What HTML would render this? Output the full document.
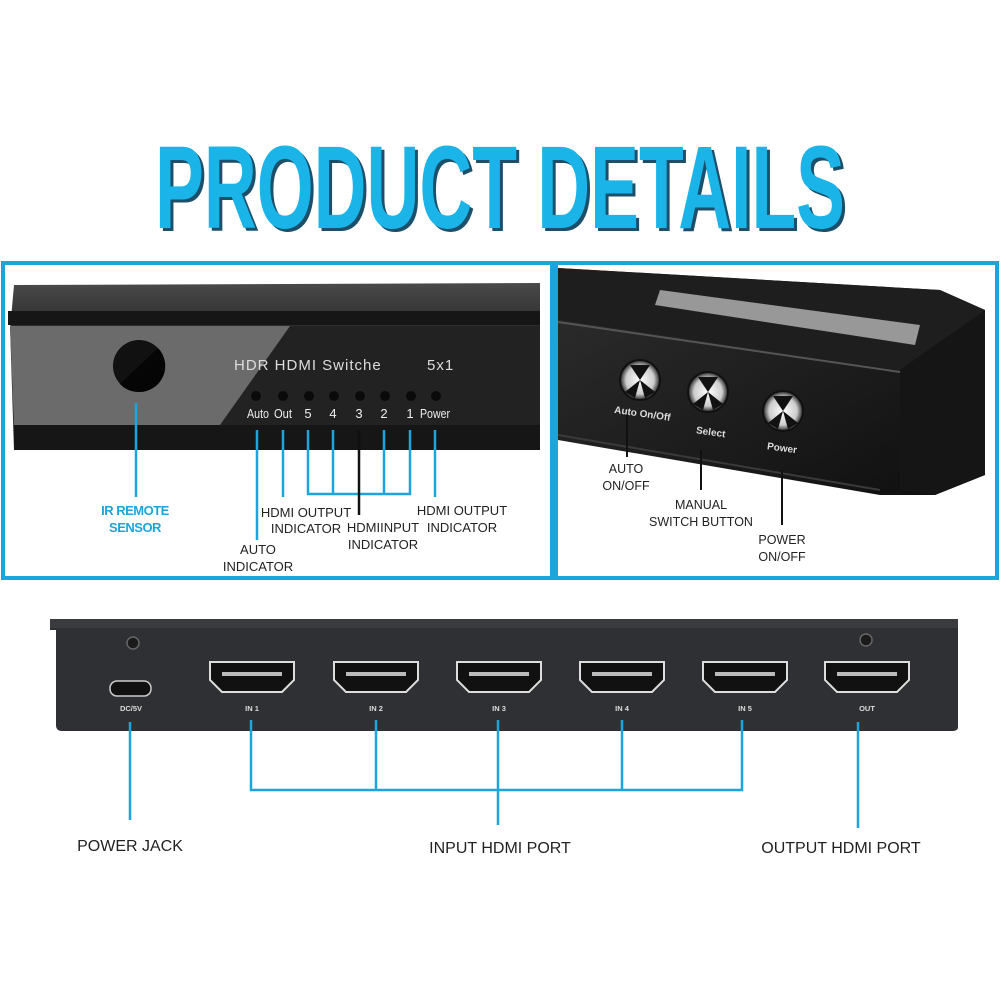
<!DOCTYPE html>
<html><head><meta charset="utf-8"><style>
html,body{margin:0;padding:0;background:#fff;}
svg{display:block;font-family:"Liberation Sans",sans-serif;}
</style></head><body>
<svg width="1000" height="1000" viewBox="0 0 1000 1000" xmlns="http://www.w3.org/2000/svg">
<defs>
<linearGradient id="topface" x1="0" y1="0" x2="0" y2="1"><stop offset="0" stop-color="#4a4a4a"/><stop offset="1" stop-color="#2a2a2a"/></linearGradient>
<linearGradient id="rbody" x1="0" y1="0" x2="1" y2="1"><stop offset="0" stop-color="#2e2e2e"/><stop offset="1" stop-color="#0e0e0e"/></linearGradient>
<radialGradient id="btn"><stop offset="0" stop-color="#fff"/><stop offset="0.7" stop-color="#ccc"/><stop offset="1" stop-color="#222"/></radialGradient>
</defs>
<rect width="1000" height="1000" fill="#fff"/>
<text x="158" y="231" font-size="118" font-weight="bold" fill="#1b4f6a" textLength="690" lengthAdjust="spacingAndGlyphs">PRODUCT DETAILS</text>
<text x="155" y="228" font-size="118" font-weight="bold" fill="#1ab4e8" textLength="690" lengthAdjust="spacingAndGlyphs">PRODUCT DETAILS</text>

<rect x="3" y="263" width="549" height="315" fill="#fff" stroke="#1aa6dc" stroke-width="4"/>
<path d="M14 285 L540 283 L540 327 L10 330 Z" fill="url(#topface)"/>
<rect x="8" y="311" width="532" height="14" fill="#161616"/>
<path d="M10 326 L540 326 L540 450 L14 450 Z" fill="#222"/>
<path d="M10 326 L290 326 L220 425 L14 425 Z" fill="#6b6b6b"/>
<rect x="14" y="425" width="526" height="25" fill="#161616"/>
<circle cx="139" cy="366" r="26" fill="#111"/>
<path d="M120 384 L158 348 A26 26 0 0 1 139 392 A26 26 0 0 1 120 384Z" fill="#050505"/>
<text x="234" y="370" font-size="15" fill="#ddd" letter-spacing="1">HDR HDMI Switche</text>
<text x="427" y="370" font-size="15" fill="#ddd" letter-spacing="1">5x1</text>
<g fill="#0a0a0a"><circle cx="256" cy="396" r="5"/><circle cx="283" cy="396" r="5"/><circle cx="309" cy="396" r="5"/><circle cx="334" cy="396" r="5"/><circle cx="360" cy="396" r="5"/><circle cx="385" cy="396" r="5"/><circle cx="411" cy="396" r="5"/><circle cx="436" cy="396" r="5"/></g>
<g font-size="13" fill="#eee" text-anchor="middle"><text x="258" y="418" textLength="22" lengthAdjust="spacingAndGlyphs">Auto</text><text x="283" y="418" textLength="18" lengthAdjust="spacingAndGlyphs">Out</text><text x="308" y="418">5</text><text x="333" y="418">4</text><text x="359" y="418">3</text><text x="384" y="418">2</text><text x="410" y="418">1</text><text x="435" y="418" textLength="30" lengthAdjust="spacingAndGlyphs">Power</text></g>
<g stroke="#1aa6dc" stroke-width="2.5" fill="none">
<line x1="136" y1="403" x2="136" y2="497"/>
<line x1="257" y1="430" x2="257" y2="540"/>
<line x1="283" y1="430" x2="283" y2="497"/>
<polyline points="308,430 308,494 410,494 410,430"/>
<line x1="333" y1="430" x2="333" y2="494"/><line x1="384" y1="430" x2="384" y2="494"/>
<line x1="435" y1="430" x2="435" y2="497"/>
</g>
<line x1="359" y1="430" x2="359" y2="515" stroke="#111" stroke-width="2.5"/>
<g font-size="13" text-anchor="middle">
<text x="135" y="515" fill="#1aa6dc" font-weight="bold" letter-spacing="-0.5">IR REMOTE</text>
<text x="135" y="532" fill="#1aa6dc" font-weight="bold" letter-spacing="-0.5">SENSOR</text>
<text x="306" y="517" fill="#222">HDMI OUTPUT</text>
<text x="306" y="533" fill="#222">INDICATOR</text>
<text x="383" y="532" fill="#222">HDMIINPUT</text>
<text x="383" y="549" fill="#222">INDICATOR</text>
<text x="462" y="515" fill="#222">HDMI OUTPUT</text>
<text x="462" y="532" fill="#222">INDICATOR</text>
<text x="258" y="554" fill="#222">AUTO</text>
<text x="258" y="571" fill="#222">INDICATOR</text>
</g>

<rect x="556" y="263" width="441" height="315" fill="#fff" stroke="#1aa6dc" stroke-width="4"/>
<path d="M558 268 L940 290 L985 310 L985 475 L935 495 L880 495 L558 440 Z" fill="url(#rbody)"/>
<path d="M558 268 L940 290 L985 310 L900 370 L558 320 Z" fill="#1e1e1e"/>
<path d="M660 290 L920 325 L915 345 L655 305 Z" fill="#ccc" opacity="0.7"/>
<path d="M900 370 L985 310 L985 475 L935 495 L900 490 Z" fill="#151515"/>
<line x1="558" y1="322" x2="900" y2="372" stroke="#555" stroke-width="2"/>
<line x1="558" y1="435" x2="880" y2="490" stroke="#3a3a3a" stroke-width="2"/>
<circle cx="640" cy="380" r="20" fill="url(#btn)" stroke="#111" stroke-width="2"/>
<circle cx="708" cy="392" r="20" fill="url(#btn)" stroke="#111" stroke-width="2"/>
<circle cx="783" cy="411" r="20" fill="url(#btn)" stroke="#111" stroke-width="2"/>
<g fill="#111"><path d="M640 380 L630 365 L650 365Z"/><path d="M640 380 L625 392 L635 398Z"/><path d="M640 380 L655 392 L645 398Z"/>
<path d="M708 392 L698 377 L718 377Z"/><path d="M708 392 L693 404 L703 410Z"/><path d="M708 392 L723 404 L713 410Z"/>
<path d="M783 411 L773 396 L793 396Z"/><path d="M783 411 L768 423 L778 429Z"/><path d="M783 411 L798 423 L788 429Z"/></g>
<g font-size="10" fill="#ddd" font-weight="bold"><text x="614" y="416" transform="rotate(8 636 414)">Auto On/Off</text><text x="696" y="435" transform="rotate(8 708 432)">Select</text><text x="767" y="451" transform="rotate(8 780 448)">Power</text></g>
<g stroke="#111" stroke-width="2"><line x1="627" y1="415" x2="627" y2="457"/><line x1="701" y1="450" x2="701" y2="490"/><line x1="782" y1="470" x2="782" y2="525"/></g>
<g font-size="12.5" fill="#222" text-anchor="middle">
<text x="626" y="473">AUTO</text><text x="626" y="490">ON/OFF</text>
<text x="701" y="509">MANUAL</text><text x="701" y="526">SWITCH BUTTON</text>
<text x="782" y="544">POWER</text><text x="782" y="561">ON/OFF</text>
</g>

<path d="M50 619 L958 619 L958 727 Q958 731 952 731 L62 731 Q56 731 56 725 L56 630 L50 630 Z" fill="#2f3033"/>
<rect x="50" y="619" width="908" height="9" fill="#3a3b3e"/>
<circle cx="133" cy="643" r="6" fill="#1a1a1a" stroke="#666" stroke-width="1.5"/>
<circle cx="866" cy="640" r="6" fill="#1a1a1a" stroke="#666" stroke-width="1.5"/>
<rect x="110" y="681" width="41" height="15" rx="7" fill="#111" stroke="#ccc" stroke-width="1.5"/>
<text x="131" y="711" font-size="7.5" fill="#ddd" font-weight="bold" text-anchor="middle">DC/5V</text>
<g>
<g transform="translate(252,678)"><path d="M-42 -16 L42 -16 L42 2 L30 14 L-30 14 L-42 2 Z" fill="#111" stroke="#ddd" stroke-width="2"/><rect x="-30" y="-6" width="60" height="4" fill="#bbb"/></g>
<g transform="translate(376,678)"><path d="M-42 -16 L42 -16 L42 2 L30 14 L-30 14 L-42 2 Z" fill="#111" stroke="#ddd" stroke-width="2"/><rect x="-30" y="-6" width="60" height="4" fill="#bbb"/></g>
<g transform="translate(499,678)"><path d="M-42 -16 L42 -16 L42 2 L30 14 L-30 14 L-42 2 Z" fill="#111" stroke="#ddd" stroke-width="2"/><rect x="-30" y="-6" width="60" height="4" fill="#bbb"/></g>
<g transform="translate(622,678)"><path d="M-42 -16 L42 -16 L42 2 L30 14 L-30 14 L-42 2 Z" fill="#111" stroke="#ddd" stroke-width="2"/><rect x="-30" y="-6" width="60" height="4" fill="#bbb"/></g>
<g transform="translate(745,678)"><path d="M-42 -16 L42 -16 L42 2 L30 14 L-30 14 L-42 2 Z" fill="#111" stroke="#ddd" stroke-width="2"/><rect x="-30" y="-6" width="60" height="4" fill="#bbb"/></g>
<g transform="translate(867,678)"><path d="M-42 -16 L42 -16 L42 2 L30 14 L-30 14 L-42 2 Z" fill="#111" stroke="#ddd" stroke-width="2"/><rect x="-30" y="-6" width="60" height="4" fill="#bbb"/></g>
</g>
<g font-size="7.5" fill="#ddd" font-weight="bold" text-anchor="middle"><text x="252" y="711">IN 1</text><text x="376" y="711">IN 2</text><text x="499" y="711">IN 3</text><text x="622" y="711">IN 4</text><text x="745" y="711">IN 5</text><text x="867" y="711">OUT</text></g>
<g stroke="#1aa6dc" stroke-width="2.5" fill="none">
<line x1="130" y1="722" x2="130" y2="820"/>
<polyline points="251,720 251,790 742,790 742,720"/>
<line x1="376" y1="720" x2="376" y2="790"/><line x1="622" y1="720" x2="622" y2="790"/>
<line x1="498" y1="720" x2="498" y2="825"/>
<line x1="858" y1="722" x2="858" y2="828"/>
</g>
<g font-size="16" fill="#222" text-anchor="middle"><text x="130" y="851">POWER JACK</text><text x="500" y="853">INPUT HDMI PORT</text><text x="841" y="853">OUTPUT HDMI PORT</text></g>
</svg>
</body></html>
